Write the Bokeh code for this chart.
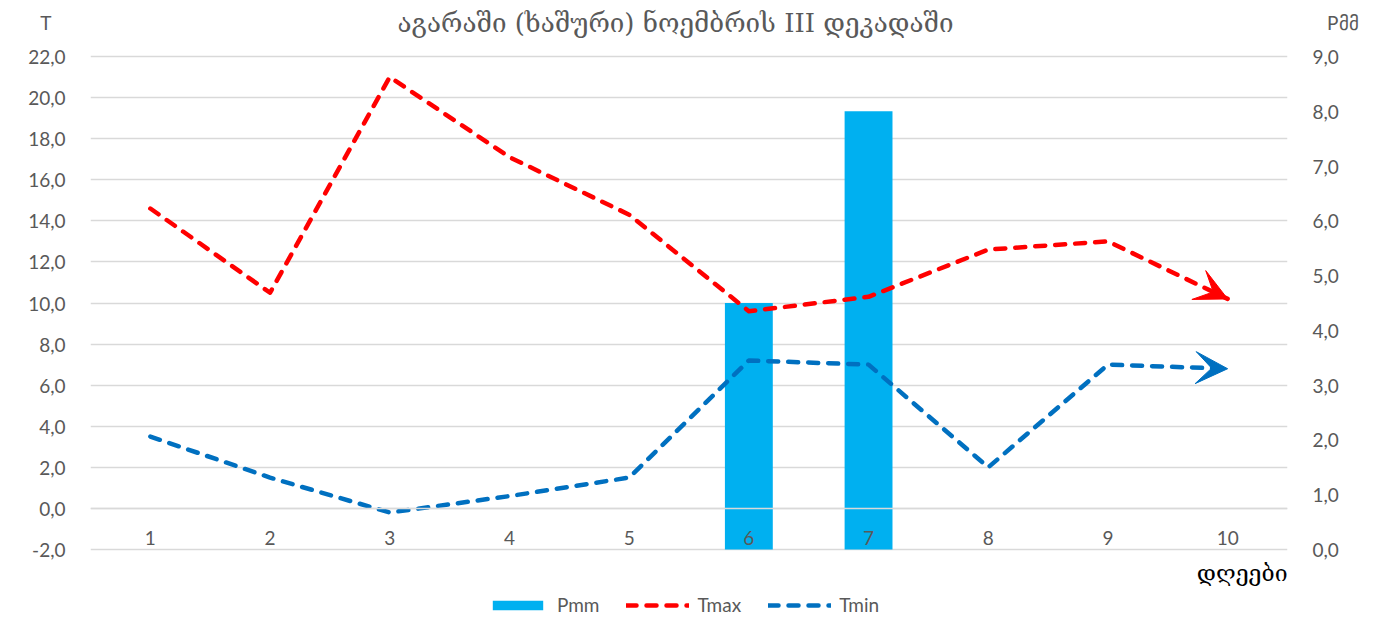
from bokeh.plotting import figure
from bokeh.models import (Range1d, LinearAxis, FixedTicker, CustomJSTickFormatter, Span,
                          Label, Legend, LegendItem, Arrow, VeeHead, ColumnDataSource)
from bokeh.core.properties import value
from bokeh.embed import file_html
from bokeh.resources import INLINE

# ---- data ----
days = [1, 2, 3, 4, 5, 6, 7, 8, 9, 10]
day_labels = ["1", "2", "3", "4", "5", "6", "7", "8", "9", "10"]
pmm = [0, 0, 0, 0, 0, 4.5, 8.0, 0, 0, 0]
tmax = [14.6, 10.5, 21.0, 17.1, 14.3, 9.6, 10.3, 12.6, 13.0, 10.2]
tmin = [3.5, 1.5, -0.2, 0.6, 1.5, 7.2, 7.0, 2.0, 7.0, 6.8]
left_ticks = [-2, 0, 2, 4, 6, 8, 10, 12, 14, 16, 18, 20, 22]
right_ticks = [0, 1, 2, 3, 4, 5, 6, 7, 8, 9]
title_text = "აგარაში (ხაშური) ნოემბრის III დეკადაში"
left_title = "T"
right_title = "Pმმ"
x_title = "დღეები"

GRAY = "#595959"
GRID = "#d9d9d9"
TICK_FONT = "Lato"
GEO_FONT = "DejaVu Serif"

# ---- layout (pixels) ----
W, H = 1380, 620
PLOT_TOP, PLOT_BOTTOM = 56, 549          # where the top / bottom gridlines sit
L_MIN, L_MAX = left_ticks[0], left_ticks[-1]
R_MIN, R_MAX = right_ticks[0], right_ticks[-1]
ls = (PLOT_BOTTOM - PLOT_TOP) / (L_MAX - L_MIN)
rs = (PLOT_BOTTOM - PLOT_TOP) / (R_MAX - R_MIN)
def lval(py):  # pixel row -> left-axis value
    return L_MIN + (PLOT_BOTTOM - py) / ls
def rval(py):
    return R_MIN + (PLOT_BOTTOM - py) / rs
XL, XR = 90, 1287
xs = (XR - XL) / len(days)
def xval(px):
    return 0.5 + (px - XL) / xs

HEAD_Y = 22
T_TICK = lval(HEAD_Y)
P_TICK = rval(HEAD_Y)

src = ColumnDataSource(dict(day=days, lab=day_labels, pmm=pmm, tmax=tmax, tmin=tmin))

p = figure(width=W, height=H, output_backend="svg", toolbar_location=None,
           x_range=Range1d(0.5, 10.5), y_range=Range1d(lval(H), lval(0)),
           x_axis_location=None,
           min_border_left=XL, min_border_right=W - XR, min_border_top=0, min_border_bottom=0)
p.extra_y_ranges = {"p": Range1d(rval(H), rval(0))}
p.outline_line_color = None
p.xgrid.visible = False
p.ygrid.ticker = FixedTicker(ticks=left_ticks)
p.ygrid.grid_line_color = GRID
p.ygrid.grid_line_width = 1.5

nb = "\u00a0"
lfmt = CustomJSTickFormatter(args=dict(lim=L_MAX + 0.5, lab=left_title + nb * 3),
                             code="return tick > lim ? lab : tick.toFixed(1).replace('.', ',');")
rfmt = CustomJSTickFormatter(args=dict(lim=R_MAX + 0.3, lab=nb * 3 + right_title),
                             code="return tick > lim ? lab : tick.toFixed(1).replace('.', ',');")

ax = p.yaxis[0]
ax.ticker = FixedTicker(ticks=left_ticks + [T_TICK])
ax.formatter = lfmt
ax.axis_line_color = None
ax.major_tick_line_color = None
ax.minor_tick_line_color = None
ax.major_label_text_font = TICK_FONT
ax.major_label_text_font_size = "19px"
ax.major_label_text_color = GRAY
ax.major_label_standoff = 19

rax = LinearAxis(y_range_name="p", ticker=FixedTicker(ticks=right_ticks + [P_TICK]), formatter=rfmt)
rax.axis_line_color = None
rax.major_tick_line_color = None
rax.minor_tick_line_color = None
rax.major_label_text_font = TICK_FONT
rax.major_label_text_font_size = "19px"
rax.major_label_text_color = GRAY
rax.major_label_standoff = 19
p.add_layout(rax, "right")

bars = p.vbar(x="day", top="pmm", bottom=0, width=0.4, y_range_name="p", source=src,
              fill_color="#00b0f0", line_color=None)

lmax = p.line(x="day", y="tmax", source=src, line_color="#ff0000", line_width=4.5,
              line_dash="10 10", line_cap="round", line_join="round")
lmin = p.line(x="day", y="tmin", source=src, line_color="#0070c0", line_width=4.5,
              line_dash="10 10", line_cap="round", line_join="round")

p.add_layout(Arrow(end=VeeHead(size=32, fill_color="#ff0000", line_color="#ff0000"),
                   x_start=days[-2], y_start=tmax[-2], x_end=days[-1], y_end=tmax[-1],
                   line_alpha=0))
p.add_layout(Arrow(end=VeeHead(size=32, fill_color="#0070c0", line_color="#0070c0"),
                   x_start=days[-2], y_start=tmin[-2], x_end=days[-1], y_end=tmin[-1],
                   line_alpha=0))

p.add_layout(Span(location=0, dimension="width", line_color=GRID, line_width=1.5))

p.text(x="day", y=lval(537), text="lab", source=src, text_align="center", text_baseline="middle",
       text_font=value(TICK_FONT), text_font_size="19px", text_color=GRAY)

p.add_layout(Label(x=xval(675), y=lval(HEAD_Y), text=title_text, text_align="center",
                   text_baseline="middle", text_font=GEO_FONT, text_font_size="26px",
                   text_color=GRAY))
p.add_layout(Label(x=10.5, y=lval(572), text=x_title, text_align="right", text_baseline="middle",
                   text_font=GEO_FONT, text_font_size="23px", text_color="black"))

legend = Legend(items=[LegendItem(label="Pmm", renderers=[bars]),
                       LegendItem(label="Tmax", renderers=[lmax]),
                       LegendItem(label="Tmin", renderers=[lmin])],
                orientation="horizontal", location=(396, 4),
                glyph_width=63, glyph_height=12, label_standoff=8, spacing=27,
                padding=0, margin=0, border_line_color=None, background_fill_alpha=0,
                label_text_font=TICK_FONT, label_text_font_size="19px", label_text_color=GRAY)
p.add_layout(legend)

open("out.html", "w").write(file_html(p, INLINE))
